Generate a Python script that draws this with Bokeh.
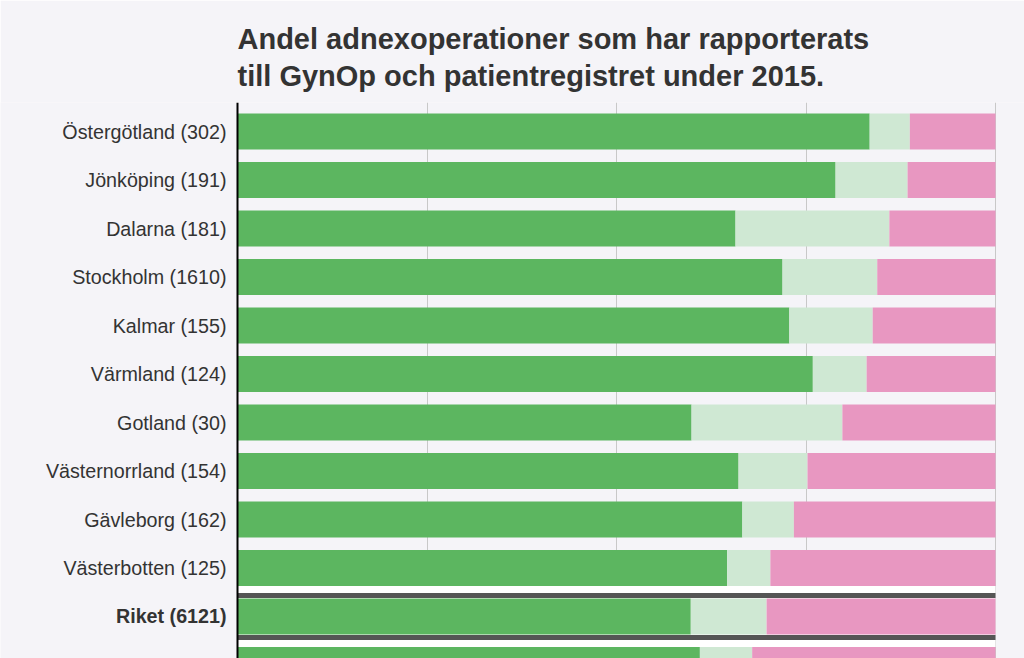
from bokeh.plotting import figure
from bokeh.models import ColumnDataSource, Range1d, FixedTicker, Grid, Span, Title
from bokeh.core.properties import value
from bokeh.embed import file_html
from bokeh.resources import INLINE

# Categories (top to bottom); the last row is cut off at the bottom of the view
regions = [
    "Östergötland (302)", "Jönköping (191)", "Dalarna (181)", "Stockholm (1610)",
    "Kalmar (155)", "Värmland (124)", "Gotland (30)", "Västernorrland (154)",
    "Gävleborg (162)", "Västerbotten (125)", "Riket (6121)", "",
]
# Shares in percent
both_registers = [83.4, 78.9, 65.7, 71.9, 72.8, 75.9, 59.9, 66.1, 66.6, 64.6, 59.8, 61.0]
gynop_only = [5.3, 9.5, 20.3, 12.5, 11.0, 7.1, 19.9, 9.1, 6.8, 5.7, 10.0, 6.9]
patreg_only = [round(100 - a - b, 1) for a, b in zip(both_registers, gynop_only)]
grid_ticks = [25, 50, 75, 100]

series = ["both", "gynop", "patreg"]
colors = ["#5cb660", "#cfe8d3", "#e897c1"]
total_label = "Riket (6121)"
title_lines = ["Andel adnexoperationer som har rapporterats",
               "till GynOp och patientregistret under 2015."]

pos = list(range(len(regions)))
src = ColumnDataSource(dict(y=pos, both=both_registers, gynop=gynop_only, patreg=patreg_only))
ri = regions.index(total_label)
lab_src = ColumnDataSource(dict(
    y=pos[:ri + 1], label=regions[:ri + 1],
    style=["bold" if r == total_label else "normal" for r in regions[:ri + 1]]))

BG = "#f5f4f8"
PX = 7.58  # pixels per percent
p = figure(width=1024, height=658, output_backend="svg", toolbar_location=None,
           x_range=Range1d(-237 / PX, 100 + 29 / PX), y_range=Range1d(10.866, -0.598),
           x_axis_location=None, y_axis_location=None, title=None,
           min_border_left=0, min_border_right=0, min_border_bottom=0, min_border_top=102,
           background_fill_color=BG, border_fill_color=BG, outline_line_color=None)

# drop default grids
for g in list(p.grid):
    g.visible = False

p.add_layout(Grid(dimension=0, ticker=FixedTicker(ticks=grid_ticks),
                  grid_line_color="#c8c8c8", grid_line_width=1))

# highlight band for the national total
p.hbar(y=[ri], left=[0], right=[100], height=1.26, color="white", line_color=None)

p.hbar_stack(series, y="y", height=0.74, color=colors, line_color=None, source=src)

p.hbar(y=[ri - 0.433, ri + 0.433], left=[0, 0], right=[100, 100], height=0.103,
       color="#555555", line_color=None)

# category axis line and labels
p.add_layout(Span(location=0, dimension="height", line_color="black", line_width=2))
p.text(x=0, y="y", text="label", source=lab_src, x_offset=-11,
       text_align="right", text_baseline="middle",
       text_font=value("Liberation Sans"), text_font_size=value("19.7px"),
       text_font_style="style", text_color="#333333")

# two-line title (inner line added first, nearest to the plot)
for line, so in [(title_lines[1], 21), (title_lines[0], -15)]:
    p.add_layout(Title(text=line, align="left", offset=237, standoff=so,
                       text_font="Liberation Sans", text_font_size="29px",
                       text_font_style="bold", text_color="#333333"), "above")

open("out.html", "w").write(file_html(p, INLINE))
